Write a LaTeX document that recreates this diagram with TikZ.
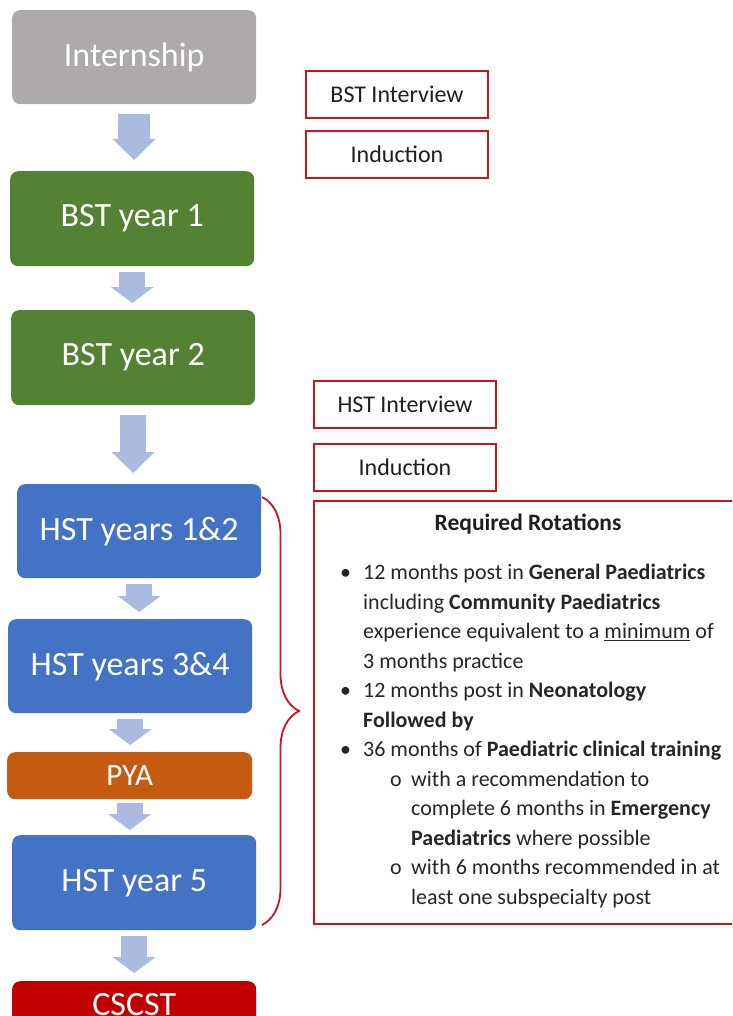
\documentclass[tikz,border=0pt]{standalone}
\usepackage{fontspec}
\setmainfont{Carlito}
\usetikzlibrary{positioning,arrows.meta,decorations.pathreplacing}
\definecolor{interngray}{HTML}{AEAAAA}
\definecolor{bstgreen}{HTML}{548235}
\definecolor{hstblue}{HTML}{4472C4}
\definecolor{pyaorange}{HTML}{C55A11}
\definecolor{cscstred}{HTML}{C00000}
\definecolor{arrowblue}{HTML}{ABBADF}
\definecolor{boxred}{HTML}{C8161D}

\begin{document}
\begin{tikzpicture}[x=1pt,y=-1pt,
		every node/.style={inner sep=0pt},
		stage/.style={anchor=north west, rounded corners=8pt, text=white,
			minimum width=244pt, minimum height=95pt,
			font=\fontsize{34}{40}\selectfont},
		flowarrow/.style={draw=arrowblue, line width=26pt,
			-{Triangle[length=16pt,width=43pt,line width=0pt]},
			shorten <=6pt, shorten >=7pt},
		longarrow/.style={-{Triangle[length=21pt,width=43pt,line width=0pt]},
			shorten <=10pt, shorten >=11pt},
		redbox/.style={draw=boxred, line width=2pt, minimum width=182pt,
			minimum height=47pt, text=black!88,
			font=\fontsize{24}{28}\selectfont},
		curly/.style={draw=boxred, line width=1.8pt,
			decorate, decoration={brace, amplitude=37pt}},
		]
		\path[use as bounding box, fill=white] (0,0) rectangle (732,1016);
		\clip (0,0) rectangle (732,1016);

		\node (intern) [stage, fill=interngray, minimum height=94pt] at (12,10) {Internship};
		\node (bst1) [stage, fill=bstgreen] at (10,171) {BST year 1};
		\node (bst2) [stage, fill=bstgreen] at (11,310) {BST year 2};
		\node (hst12) [stage, fill=hstblue, minimum height=94pt] at (17,484) {HST years 1\&2};
		\node (hst34) [stage, fill=hstblue, minimum height=94pt] at (8,619) {HST years 3\&4};
		\node (pya) [stage, fill=pyaorange, minimum width=245pt, minimum height=47pt,
			font=\fontsize{31}{36}\selectfont] at (7,752) {PYA};
		\node (hst5) [stage, fill=hstblue] at (12,835) {HST year 5};
		\node (cscst) [stage, fill=cscstred, minimum height=47pt] at (12,981) {CSCST};

		\draw[flowarrow, longarrow, line width=32pt] (intern.south) -- (intern.south |- bst1.north);
		\draw[flowarrow] (bst1.south) -- (bst1.south |- bst2.north);
		\draw[flowarrow, longarrow] (bst2.south) -- (bst2.south |- hst12.north);
		\draw[flowarrow] (hst12.south) -- (hst12.south |- hst34.north);
		\draw[flowarrow] (hst34.south) -- (hst34.south |- pya.north);
		\draw[flowarrow, shorten <=4pt, shorten >=5pt] (pya.south) -- (pya.south |- hst5.north);
		\draw[flowarrow, shorten >=8pt] (hst5.south) -- (hst5.south |- cscst.north);

		\node (bstint) [redbox, anchor=north west] at (305,70) {BST Interview};
		\node (bstind) [redbox, below=11pt of bstint] {Induction};
		\node (hstint) [redbox, anchor=north west] at (313,380) {HST Interview};
		\node (hstind) [redbox, below=14pt of hstint] {Induction};

		\coordinate (bracetop) at (262,497);
		\coordinate (bracebot) at (262,925);
		\draw[curly] (bracetop) -- (bracebot);

		\node (rotations) [draw=boxred, line width=2pt, anchor=north west,
			minimum width=430pt, minimum height=423pt] at (313,500) {};
		\node (rottitle) [text=black!88, font=\bfseries\fontsize{23.5}{28}\selectfont] at (528,524) {Required Rotations};
		\node (rotlist) [anchor=north west, align=left, text=black!85,
			font=\fontsize{22}{29.5}\selectfont] at (340,564) {%
			\makebox[23pt][l]{\textbullet}12 months post in \textbf{General Paediatrics}\\
			\hspace*{23pt}including \textbf{Community Paediatrics}\\
			\hspace*{23pt}experience equivalent to a \underline{minimum} of\\
			\hspace*{23pt}3 months practice\\
			\makebox[23pt][l]{\textbullet}12 months post in \textbf{Neonatology}\\
			\hspace*{23pt}\textbf{Followed by}\\
			\makebox[23pt][l]{\textbullet}36 months of \textbf{Paediatric clinical training}\\
			\hspace*{50pt}\makebox[21pt][l]{o}with a recommendation to\\
			\hspace*{71pt}complete 6 months in \textbf{Emergency}\\
			\hspace*{71pt}\textbf{Paediatrics} where possible\\
			\hspace*{50pt}\makebox[21pt][l]{o}with 6 months recommended in at\\
			\hspace*{71pt}least one subspecialty post};

\end{tikzpicture}
\end{document}
